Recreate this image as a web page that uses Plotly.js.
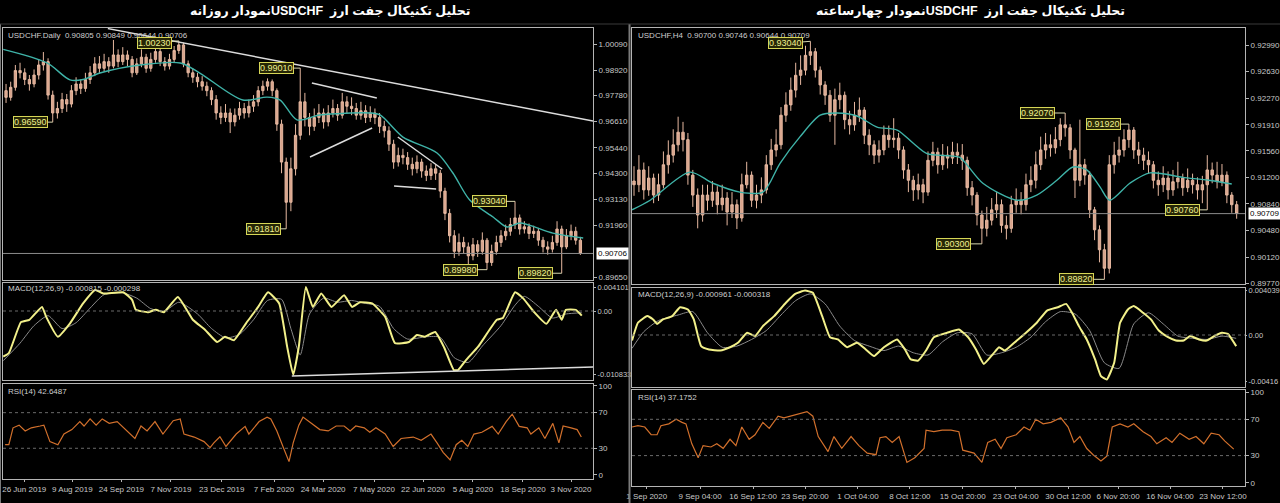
<!DOCTYPE html>
<html><head><meta charset="utf-8">
<script src="https://cdn.plot.ly/plotly-3.0.1.min.js"></script>
<style>html,body{margin:0;padding:0;background:#000;}#chart{width:1280px;height:503px;}</style>
</head><body><div id="chart"></div><script>
// ---------- DATA: left chart (USDCHF Daily, one candle per ~3 sessions) ----------
const dailyOpen = [0.9800,0.9770,0.9815,0.9890,0.9880,0.9850,0.9830,0.9870,0.9915,0.9930,
0.9780,0.9700,0.9720,0.9760,0.9740,0.9800,0.9830,0.9810,0.9850,0.9880,
0.9920,0.9900,0.9930,0.9910,0.9960,0.9930,0.9960,0.9940,0.9880,0.9920,
0.9950,0.9900,0.9940,0.9975,0.9930,0.9910,0.9940,0.9980,1.0005,0.9920,
0.9880,0.9860,0.9840,0.9820,0.9800,0.9760,0.9700,0.9680,0.9700,0.9660,
0.9690,0.9720,0.9700,0.9730,0.9750,0.9800,0.9820,0.9840,0.9800,0.9650,
0.9480,0.9300,0.9450,0.9600,0.9750,0.9680,0.9640,0.9680,0.9700,0.9660,
0.9700,0.9720,0.9690,0.9750,0.9730,0.9720,0.9690,0.9710,0.9680,0.9700,
0.9680,0.9640,0.9620,0.9560,0.9480,0.9510,0.9500,0.9470,0.9450,0.9480,
0.9440,0.9420,0.9450,0.9430,0.9350,0.9250,0.9150,0.9080,0.9120,0.9100,
0.9060,0.9110,0.9080,0.9130,0.9030,0.9080,0.9120,0.9150,0.9170,0.9200,
0.9230,0.9180,0.9190,0.9160,0.9170,0.9130,0.9100,0.9090,0.9120,0.9180,
0.9100,0.9150,0.9170,0.9130];
const dailyHigh = [0.9830,0.9840,0.9915,0.9925,0.9900,0.9870,0.9895,0.9940,0.9973,0.9945,
0.9800,0.9750,0.9790,0.9785,0.9825,0.9860,0.9850,0.9880,0.9910,0.9950,
0.9955,0.9965,0.9950,1.0027,0.9985,0.9995,0.9980,0.9955,0.9945,0.9985,
0.9965,0.9970,1.0000,0.9990,0.9950,0.9965,1.0000,1.0023,1.0015,0.9935,
0.9900,0.9880,0.9865,0.9840,0.9815,0.9780,0.9730,0.9740,0.9720,0.9720,
0.9750,0.9745,0.9760,0.9780,0.9820,0.9845,0.9855,0.9850,0.9810,0.9670,
0.9500,0.9500,0.9650,0.9901,0.9790,0.9700,0.9720,0.9740,0.9720,0.9735,
0.9760,0.9740,0.9790,0.9775,0.9770,0.9745,0.9750,0.9735,0.9730,0.9720,
0.9700,0.9665,0.9640,0.9580,0.9545,0.9540,0.9525,0.9500,0.9510,0.9495,
0.9465,0.9475,0.9470,0.9445,0.9365,0.9270,0.9175,0.9160,0.9145,0.9120,
0.9140,0.9130,0.9165,0.9140,0.9110,0.9150,0.9175,0.9200,0.9230,0.9304,
0.9245,0.9215,0.9205,0.9195,0.9185,0.9145,0.9125,0.9150,0.9215,0.9195,
0.9180,0.9200,0.9190,0.9145];
const dailyLow = [0.9745,0.9755,0.9800,0.9855,0.9825,0.9800,0.9815,0.9850,0.9890,0.9760,
0.9659,0.9675,0.9700,0.9705,0.9725,0.9780,0.9785,0.9795,0.9830,0.9865,
0.9875,0.9885,0.9880,0.9900,0.9905,0.9915,0.9910,0.9860,0.9870,0.9905,
0.9880,0.9885,0.9925,0.9910,0.9890,0.9895,0.9925,0.9965,0.9905,0.9860,
0.9835,0.9815,0.9800,0.9775,0.9735,0.9670,0.9650,0.9660,0.9610,0.9640,
0.9670,0.9675,0.9680,0.9705,0.9730,0.9780,0.9800,0.9775,0.9620,0.9430,
0.9181,0.9260,0.9420,0.9580,0.9640,0.9600,0.9620,0.9655,0.9630,0.9640,
0.9680,0.9665,0.9675,0.9700,0.9690,0.9670,0.9670,0.9655,0.9660,0.9650,
0.9610,0.9590,0.9530,0.9450,0.9460,0.9470,0.9445,0.9420,0.9430,0.9410,
0.9395,0.9400,0.9400,0.9320,0.9220,0.9120,0.9050,0.9060,0.9070,0.8995,
0.9040,0.9055,0.9065,0.8998,0.9015,0.9065,0.9100,0.9130,0.9150,0.9180,
0.9155,0.9160,0.9135,0.9140,0.9105,0.9075,0.9065,0.9075,0.9105,0.8982,
0.9090,0.9130,0.9110,0.9064];
const dailyClose = [0.9770,0.9815,0.9890,0.9880,0.9850,0.9830,0.9870,0.9915,0.9930,0.9780,
0.9700,0.9720,0.9760,0.9740,0.9800,0.9830,0.9810,0.9850,0.9880,0.9920,
0.9900,0.9930,0.9910,0.9960,0.9930,0.9960,0.9940,0.9880,0.9920,0.9950,
0.9900,0.9940,0.9975,0.9930,0.9910,0.9940,0.9980,1.0005,0.9920,0.9880,
0.9860,0.9840,0.9820,0.9800,0.9760,0.9700,0.9680,0.9700,0.9660,0.9690,
0.9720,0.9700,0.9730,0.9750,0.9800,0.9820,0.9840,0.9800,0.9650,0.9480,
0.9300,0.9450,0.9600,0.9750,0.9680,0.9640,0.9680,0.9700,0.9660,0.9700,
0.9720,0.9690,0.9750,0.9730,0.9720,0.9690,0.9710,0.9680,0.9700,0.9680,
0.9640,0.9620,0.9560,0.9480,0.9510,0.9500,0.9470,0.9450,0.9480,0.9440,
0.9420,0.9450,0.9430,0.9350,0.9250,0.9150,0.9080,0.9120,0.9100,0.9060,
0.9110,0.9080,0.9130,0.9030,0.9080,0.9120,0.9150,0.9170,0.9200,0.9230,
0.9180,0.9190,0.9160,0.9170,0.9130,0.9100,0.9090,0.9120,0.9180,0.9100,
0.9150,0.9170,0.9130,0.9071];
const dailyMaX = [-0.6,8.8,13.7,16.5,20.1,28.7,37.3,41.5,50.7,55.9,58.7,62.3,67.2,77.9,80.1,85.0,92.3,95.7,99.3,104.3,107.3,110.1,117.1,123.6];
const dailyMa  = [0.9985,0.9924,0.9848,0.9850,0.9879,0.9915,0.9924,0.9879,0.9758,0.9771,0.9758,0.9669,0.9691,0.9700,0.9691,0.9592,0.9521,0.9431,0.9310,0.9234,0.9189,0.9207,0.9162,0.9140];
const dailyMacdX = [-0.6,0.6,3.2,5.0,7.7,8.6,11.1,13.7,16.5,19.1,20.8,25.1,27.0,27.8,30.4,32.1,33.8,36.8,40.0,42.6,45.2,46.9,48.8,51.4,54.0,56.1,58.5,60.2,61.5,62.7,64.2,65.7,67.5,69.7,72.4,74.1,75.8,78.4,81.2,83.3,86.3,88.0,89.7,91.9,93.8,95.9,96.8,98.5,101.1,105.1,106.4,109.0,110.7,113.1,115.7,117.8,119.0,119.9,122.0,123.3];
const dailyMacd  = [-0.0078,-0.0072,-0.0019,-0.0015,0.0007,-0.0010,-0.0044,-0.0021,0.0013,0.0036,0.0030,0.0032,0.0019,0.0002,-0.0002,0.0002,-0.0002,0.0024,-0.0015,-0.0032,-0.0053,-0.0044,-0.0050,-0.0021,0.0007,0.0032,0.0013,-0.0061,-0.0109,-0.0061,0.0041,0.0007,0.0030,0.0007,0.0027,0.0007,0.0015,0.0013,-0.0010,-0.0055,-0.0053,-0.0041,-0.0044,-0.0036,-0.0062,-0.0101,-0.0101,-0.0084,-0.0061,-0.0015,-0.0012,0.0032,0.0022,-0.0002,-0.0022,0.0002,-0.0015,0.0002,0.0002,-0.0008];
const dailySignalX = [-0.6,3,6,9,12,15,18,21,25,28,31,34,37,41,44,47,50,53,56,59,61,63,65,68,71,74,77,80,83,86,90,93,96,99,102,106,109,111,114,117,120,123.3];
const dailySignal  = [-0.0085,-0.0055,-0.0025,-0.0008,-0.0030,-0.0020,0.0005,0.0028,0.0031,0.0022,0.0004,0.0000,0.0015,-0.0005,-0.0030,-0.0046,-0.0040,-0.0015,0.0018,0.0020,-0.0030,-0.0075,-0.0005,0.0022,0.0015,0.0018,0.0013,0.0008,-0.0030,-0.0048,-0.0044,-0.0045,-0.0080,-0.0088,-0.0060,-0.0025,0.0010,0.0025,0.0008,-0.0012,-0.0005,-0.0003];
const dailyRsiX = [-0.2,0.6,1.5,2.8,4.1,5.4,7.3,8.1,9.4,11.1,12.4,14.1,15.8,16.7,18.0,19.3,20.6,22.1,23.8,25.5,27.6,28.9,30.2,31.9,33.6,35.8,37.3,38.1,40.3,42.4,43.7,44.5,45.8,47.1,49.3,51.2,52.0,54.2,55.9,56.7,58.0,59.3,60.2,60.6,61.5,62.7,63.6,65.5,67.2,69.0,70.7,72.4,73.7,74.9,76.7,77.9,79.2,81.2,82.9,84.6,87.2,88.9,91.0,92.3,93.6,95.1,96.4,97.6,98.9,100.2,101.9,104.1,105.4,107.1,108.4,109.9,111.6,112.4,114.1,115.4,117.1,118.4,119.3,121.0,122.3,123.2];
const dailyRsi  = [34,34,53,56,49.5,53,55,56,37.5,34,46,51,60,55,63,56,63,58,60,51,41,55,49.5,60,46,61,63,46,42.6,37.5,30.7,36,43,32,46,54.6,46,60,65,63,49.5,32,20,15,36,56,65,58,51,49.5,55,55,49.5,55,53,48,53,46,32,41,42.6,39,46,36,25.5,17,34,39,32,46,48,54.6,46,60,68.3,54.6,53,46,53,41,58,36,55,53,51,42.6];
const dailyTicks = ["26 Jun 2019","9 Aug 2019","24 Sep 2019","7 Nov 2019","23 Dec 2019","7 Feb 2020","24 Mar 2020","7 May 2020","22 Jun 2020","5 Aug 2020","18 Sep 2020","3 Nov 2020"];
const dailyTickPos = [3.9,14.2,24.7,35.3,46.2,57.4,67.9,78.8,89.3,100,110.7,121];
const dailyPriceTicks = [1.0009,0.9892,0.9778,0.9661,0.9544,0.9430,0.9313,0.9196,0.8965];
const dailyPriceText = ["1.00090","0.98920","0.97780","0.96610","0.95440","0.94300","0.93130","0.91960","0.89650"];
const dailyMacdTicks = [0.004101,0,-0.010833];
const dailyMacdText = ["0.004101","0.00","-0.010833"];

// ---------- DATA: right chart (USDCHF H4, one candle per ~3 bars) ----------
const h4Open = [0.9115,0.9110,0.9130,0.9103,0.9119,0.9096,0.9110,0.9137,0.9150,0.9164,
0.9181,0.9171,0.9123,0.9096,0.9069,0.9096,0.9089,0.9100,0.9083,0.9092,
0.9073,0.9083,0.9065,0.9110,0.9123,0.9089,0.9096,0.9103,0.9137,0.9157,
0.9164,0.9204,0.9218,0.9238,0.9258,0.9265,0.9285,0.9290,0.9265,0.9245,
0.9231,0.9204,0.9225,0.9231,0.9198,0.9191,0.9204,0.9211,0.9177,0.9164,
0.9150,0.9157,0.9177,0.9171,0.9173,0.9157,0.9130,0.9116,0.9103,0.9110,
0.9100,0.9143,0.9154,0.9137,0.9150,0.9146,0.9154,0.9150,0.9143,0.9106,
0.9096,0.9069,0.9051,0.9062,0.9076,0.9083,0.9055,0.9051,0.9083,0.9089,
0.9083,0.9110,0.9116,0.9137,0.9157,0.9164,0.9160,0.9171,0.9191,0.9187,
0.9157,0.9116,0.9137,0.9123,0.9076,0.9049,0.9022,0.8997,0.9137,0.9150,
0.9157,0.9171,0.9184,0.9157,0.9150,0.9143,0.9137,0.9116,0.9110,0.9119,
0.9103,0.9114,0.9119,0.9106,0.9116,0.9110,0.9103,0.9110,0.9130,0.9123,
0.9114,0.9123,0.9096,0.9083];
const h4High = [0.9135,0.9150,0.9140,0.9135,0.9125,0.9125,0.9155,0.9170,0.9185,0.9202,
0.9195,0.9180,0.9130,0.9105,0.9110,0.9110,0.9115,0.9108,0.9110,0.9100,
0.9100,0.9090,0.9125,0.9141,0.9128,0.9110,0.9120,0.9150,0.9172,0.9185,
0.9215,0.9235,0.9255,0.9275,0.9285,0.9298,0.9304,0.9295,0.9270,0.9250,
0.9238,0.9240,0.9248,0.9236,0.9210,0.9222,0.9228,0.9215,0.9185,0.9170,
0.9170,0.9190,0.9190,0.9200,0.9180,0.9162,0.9138,0.9122,0.9125,0.9118,
0.9155,0.9168,0.9160,0.9165,0.9162,0.9168,0.9166,0.9165,0.9148,0.9115,
0.9100,0.9075,0.9080,0.9092,0.9100,0.9090,0.9068,0.9095,0.9105,0.9100,
0.9125,0.9135,0.9155,0.9175,0.9180,0.9178,0.9188,0.9200,0.9207,0.9192,
0.9160,0.9198,0.9145,0.9128,0.9080,0.9055,0.9030,0.9150,0.9168,0.9175,
0.9185,0.9192,0.9188,0.9168,0.9160,0.9155,0.9142,0.9128,0.9135,0.9128,
0.9130,0.9141,0.9125,0.9132,0.9125,0.9120,0.9122,0.9150,0.9140,0.9141,
0.9138,0.9128,0.9100,0.9088];
const h4Low = [0.9095,0.9100,0.9090,0.9095,0.9085,0.9088,0.9105,0.9125,0.9140,0.9155,
0.9155,0.9110,0.9080,0.9051,0.9060,0.9075,0.9080,0.9070,0.9075,0.9055,
0.9065,0.9050,0.9060,0.9105,0.9080,0.9078,0.9085,0.9098,0.9130,0.9148,
0.9158,0.9195,0.9210,0.9228,0.9245,0.9258,0.9272,0.9255,0.9232,0.9218,
0.9195,0.9164,0.9212,0.9185,0.9178,0.9183,0.9195,0.9165,0.9150,0.9138,
0.9140,0.9150,0.9160,0.9160,0.9145,0.9118,0.9100,0.9088,0.9090,0.9085,
0.9095,0.9135,0.9125,0.9130,0.9132,0.9138,0.9138,0.9130,0.9095,0.9082,
0.9055,0.9030,0.9040,0.9055,0.9065,0.9045,0.9036,0.9045,0.9072,0.9070,
0.9075,0.9100,0.9105,0.9130,0.9145,0.9148,0.9152,0.9162,0.9175,0.9145,
0.9092,0.9108,0.9110,0.9065,0.9035,0.9005,0.8982,0.8990,0.9125,0.9140,
0.9148,0.9160,0.9145,0.9138,0.9130,0.9125,0.9105,0.9095,0.9100,0.9090,
0.9095,0.9105,0.9095,0.9100,0.9098,0.9090,0.9085,0.9076,0.9112,0.9105,
0.9108,0.9085,0.9072,0.9064];
const h4Close = [0.9110,0.9130,0.9103,0.9119,0.9096,0.9110,0.9137,0.9150,0.9164,0.9181,
0.9171,0.9123,0.9096,0.9069,0.9096,0.9089,0.9100,0.9083,0.9092,0.9073,
0.9083,0.9065,0.9110,0.9123,0.9089,0.9096,0.9103,0.9137,0.9157,0.9164,
0.9204,0.9218,0.9238,0.9258,0.9265,0.9285,0.9290,0.9265,0.9245,0.9231,
0.9204,0.9225,0.9231,0.9198,0.9191,0.9204,0.9211,0.9177,0.9164,0.9150,
0.9157,0.9177,0.9171,0.9173,0.9157,0.9130,0.9116,0.9103,0.9110,0.9100,
0.9143,0.9154,0.9137,0.9150,0.9146,0.9154,0.9150,0.9143,0.9106,0.9096,
0.9069,0.9051,0.9062,0.9076,0.9083,0.9055,0.9051,0.9083,0.9089,0.9083,
0.9110,0.9116,0.9137,0.9157,0.9164,0.9160,0.9171,0.9191,0.9187,0.9157,
0.9116,0.9137,0.9123,0.9076,0.9049,0.9022,0.8997,0.9137,0.9150,0.9157,
0.9171,0.9184,0.9157,0.9150,0.9143,0.9137,0.9116,0.9110,0.9119,0.9103,
0.9114,0.9119,0.9106,0.9116,0.9110,0.9103,0.9110,0.9130,0.9123,0.9114,
0.9123,0.9096,0.9083,0.9071];
const h4MaX = [-0.4,3.3,11.4,16.1,21.6,26.3,29.8,33.9,38.0,41.4,45.5,49.6,53.7,57.0,59.8,64.5,66.5,71.2,78.2,82.2,86.3,89.6,92.4,95.1,97.1,101.2,105.3,112.0,117.3,122.0];
const h4Ma  = [0.9076,0.9089,0.9127,0.9112,0.9100,0.9100,0.9139,0.9175,0.9204,0.9207,0.9203,0.9188,0.9184,0.9166,0.9152,0.9149,0.9147,0.9112,0.9089,0.9096,0.9116,0.9134,0.9130,0.9107,0.9089,0.9112,0.9126,0.9120,0.9116,0.9111];
const h4MacdX = [-0.4,0.8,2.7,3.9,4.7,5.9,7.8,9.4,11.0,12.2,13.7,15.3,17.6,19.6,21.2,23.1,24.7,26.3,28.6,31.0,32.9,34.9,36.5,38.4,40.0,41.6,43.5,45.5,47.3,49.0,51.0,53.7,55.3,56.5,58.0,59.6,61.2,63.9,66.3,68.2,69.8,71.4,73.3,74.5,75.7,77.6,80.0,82.2,84.3,86.5,88.2,89.4,90.8,92.4,94.1,95.3,96.5,98.0,99.2,100.8,102.0,103.9,105.5,107.1,109.0,110.6,112.2,113.5,115.3,116.9,118.4,120.0,121.2,122.9];
const h4Macd  = [-0.0005,0.0011,0.0017,0.0014,0.0010,0.0014,0.0017,0.0025,0.0023,0.0014,-0.0010,-0.0013,-0.0014,-0.0011,-0.0007,0.0002,-0.0001,0.0008,0.0017,0.0029,0.0037,0.0040,0.0038,0.0017,-0.0002,-0.0004,-0.0011,-0.0007,-0.0013,-0.0019,-0.0011,-0.0004,-0.0013,-0.0022,-0.0023,-0.0014,-0.0002,0.0002,0.0005,-0.0002,-0.0013,-0.0026,-0.0017,-0.0011,-0.0014,-0.0007,0.0002,0.0011,0.0022,0.0025,0.0028,0.0020,0.0008,-0.0004,-0.0022,-0.0037,-0.0040,-0.0025,0.0011,0.0023,0.0026,0.0020,0.0014,0.0004,-0.0002,-0.0005,-0.0005,-0.0001,-0.0004,-0.0005,-0.0001,0.0002,0.0001,-0.0010];
const h4SignalX = [-0.4,2,5,9,12,15,18,21,24,27,30,33,36,39,42,45,48,51,54,57,60,63,66,69,72,75,78,81,84,87,90,93,96,99,102,105,108,111,114,117,120,122.9];
const h4Signal  = [-0.0012,0.0003,0.0013,0.0018,0.0021,0.0002,-0.0011,-0.0010,-0.0004,0.0004,0.0018,0.0031,0.0037,0.0028,0.0008,-0.0005,-0.0010,-0.0014,-0.0010,-0.0016,-0.0018,-0.0006,0.0002,0.0001,-0.0018,-0.0016,-0.0011,-0.0002,0.0012,0.0021,0.0019,0.0004,-0.0025,-0.0030,0.0010,0.0020,0.0010,-0.0001,-0.0003,-0.0004,-0.0001,-0.0003];
const h4RsiX = [-0.4,0.8,2.2,3.5,4.7,5.5,7.1,8.6,9.8,10.6,11.8,13.1,14.1,15.7,16.9,18.2,19.6,20.8,22.0,23.5,24.7,26.3,27.6,29.4,30.6,31.8,33.3,35.3,36.5,37.6,39.6,40.8,42.4,44.3,45.9,47.6,49.4,50.2,51.4,52.7,54.1,55.7,57.3,59.2,59.6,61.2,62.9,64.7,66.3,67.1,69.4,71.0,72.2,73.7,74.9,76.1,78.0,79.6,80.8,82.0,83.5,85.1,87.1,88.6,89.8,91.0,92.4,93.7,95.3,96.5,97.6,99.2,100.8,102.0,103.9,105.5,106.7,108.6,109.8,111.4,113.3,114.7,116.3,117.8,119.4,120.6,122.4];
const h4Rsi  = [61.5,63,61.5,53,53,63,65,70,66.6,65,43,27.6,41,39.5,43,38,48,41,61.5,48,53,66.6,60,73.4,71.7,73.4,75,78.5,73.4,51,34.4,51,38,51,41,32.7,31,49.7,51,44.6,51,22.5,27.6,37.8,58,56.4,58,58,56.4,36,32.7,22.5,44.6,48,37.8,49.7,53,61.5,58,70,65,66.6,71.7,61.5,44.6,51,37.8,31,24.2,29.4,61.5,65,61.5,65,56.4,51,43,49.7,44.6,54.7,48,51,43,54.7,53,46,37.2];
const h4Ticks = ["1 Sep 2020","9 Sep 04:00","16 Sep 12:00","23 Sep 20:00","1 Oct 04:00","8 Oct 12:00","15 Oct 20:00","23 Oct 04:00","30 Oct 12:00","6 Nov 20:00","16 Nov 04:00","23 Nov 12:00"];
const h4TickPos = [2.6,13.5,24.3,34.9,45.7,56.3,67.1,77.9,88.6,98.8,109.4,120.2];
const h4PriceTicks = [0.9299,0.9263,0.9227,0.9191,0.9156,0.9120,0.9084,0.9048,0.9012,0.8977];
const h4PriceText = ["0.92990","0.92630","0.92270","0.91910","0.91560","0.91200","0.90840","0.90480","0.90120","0.89770"];
const h4MacdTicks = [0.004039,0,-0.00416];
const h4MacdText = ["0.004039","0.00","-0.00416"];
const rsiTicks = [100,70,30,0];
const rsiText = ["100","70","30","0"];
// Persian titles: the three parts, in left-to-right display order on screen
const leftTitle  = "نمودار روزانهUSDCHF  تحلیل تکنیکال جفت ارز";
const rightTitle = "نمودار چهارساعتهUSDCHF  تحلیل تکنیکال جفت ارز";

// ---------- LAYOUT helpers (pixel -> paper) ----------
const W = 1280, H = 503;
const px = v => v / W;
const py = v => 1 - v / H;

const FONT = "Liberation Sans, Arial, sans-serif";
const TICKC = "#c8c8c8";
const FRAME = "#b4b4b4";
const CANDLE_FILL = "#d9a48c";
const CANDLE_LINE = "#e6b8a0";

function candle(o,h,l,c,xa,ya){
  const xs = o.map((_,i)=>i);
  return {type:"candlestick", x:xs, open:o, high:h, low:l, close:c, xaxis:xa, yaxis:ya,
    increasing:{line:{color:CANDLE_LINE,width:1},fillcolor:CANDLE_FILL},
    decreasing:{line:{color:CANDLE_LINE,width:1},fillcolor:CANDLE_FILL},
    whiskerwidth:0, hoverinfo:"skip", showlegend:false};
}
function line(x,y,xa,ya,color,width,smooth){
  return {type:"scatter",mode:"lines",x:x,y:y,xaxis:xa,yaxis:ya,
    line:{color:color,width:width,shape:smooth?"spline":"linear",smoothing:smooth||0},hoverinfo:"skip",showlegend:false};
}

const traces = [
  candle(dailyOpen,dailyHigh,dailyLow,dailyClose,"x","y"),
  line(dailyMaX,dailyMa,"x","y","#3fb3a8",1.4,0.8),
  line(dailySignalX,dailySignal,"x2","y2","#8a8a8a",1,0.6),
  line(dailyMacdX,dailyMacd,"x2","y2","#f2f08a",2,0.4),
  line(dailyRsiX,dailyRsi,"x3","y3","#d2702c",1.2),
  candle(h4Open,h4High,h4Low,h4Close,"x4","y4"),
  line(h4MaX,h4Ma,"x4","y4","#3fb3a8",1.4,0.8),
  line(h4SignalX,h4Signal,"x5","y5","#8a8a8a",1,0.6),
  line(h4MacdX,h4Macd,"x5","y5","#f2f08a",2,0.4),
  line(h4RsiX,h4Rsi,"x6","y6","#d2702c",1.2)
];

function xax(dom, range, anchor, labels){
  const a = {domain:dom, range:range, anchor:anchor, showgrid:false, zeroline:false,
    showline:true, mirror:true, linecolor:FRAME, linewidth:1, fixedrange:true,
    rangeslider:{visible:false}, showticklabels:false, ticks:""};
  if(labels){
    a.showticklabels = true; a.tickmode="array"; a.tickvals=labels[0]; a.ticktext=labels[1];
    a.tickangle=0; a.automargin=false;
    a.tickfont={family:FONT,size:8,color:TICKC}; a.ticks="outside"; a.ticklen=2; a.tickcolor=FRAME;
  }
  return a;
}
function yax(dom, range, anchor, vals, text, fs, tl){
  return {domain:dom, range:range, anchor:anchor, side:"right", showgrid:false, zeroline:false,
    showline:true, mirror:true, linecolor:FRAME, linewidth:1, fixedrange:true, automargin:false,
    tickmode:"array", tickvals:vals, ticktext:text, ticks:"outside", ticklen:tl||3, tickcolor:FRAME,
    tickfont:{family:FONT,size:fs||8,color:TICKC}};
}

const LX = [px(3), px(593)], RX = [px(632), px(1245)];
const LXR = [-0.65, 125.7], RXR = [-0.41, 124.7];

const layout = {
  width:W, height:H, margin:{l:0,r:0,t:0,b:0,pad:0},
  paper_bgcolor:"#000000", plot_bgcolor:"#000000", hovermode:false, showlegend:false,
  xaxis: xax(LX, LXR, "y"),
  yaxis: yax([py(280), py(28)], [0.89517, 1.00807], "x", dailyPriceTicks, dailyPriceText),
  xaxis2: xax(LX, LXR, "y2"),
  yaxis2: yax([py(380), py(283)], [-0.0118, 0.00479], "x2", dailyMacdTicks, dailyMacdText, 7.5, 2),
  xaxis3: xax(LX, LXR, "y3", [dailyTickPos, dailyTicks]),
  yaxis3: yax([py(479), py(384)], [-4.5, 102.2], "x3", rsiTicks, rsiText),
  xaxis4: xax(RX, RXR, "y4"),
  yaxis4: yax([py(284), py(28)], [0.89757, 0.9322], "x4", h4PriceTicks, h4PriceText),
  xaxis5: xax(RX, RXR, "y5"),
  yaxis5: yax([py(387), py(288)], [-0.00468, 0.00423], "x5", h4MacdTicks, h4MacdText, 7.5, 1),
  xaxis6: xax(RX, RXR, "y6", [h4TickPos, h4Ticks]),
  yaxis6: yax([py(486), py(390)], [-3.5, 102.3], "x6", rsiTicks, rsiText),
  shapes: [],
  annotations: []
};

const S = layout.shapes, A = layout.annotations;
// window separators
S.push({type:"line",xref:"paper",yref:"paper",x0:px(629.5),x1:px(629.5),y0:0,y1:py(24),line:{color:"#7a7a7a",width:2}});
S.push({type:"line",xref:"paper",yref:"paper",x0:px(0.5),x1:px(0.5),y0:0,y1:py(24),line:{color:"#7a7a7a",width:1}});
S.push({type:"line",xref:"paper",yref:"paper",x0:0,x1:1,y0:py(24),y1:py(24),line:{color:"#3a3a3a",width:1}});
// current price lines
S.push({type:"line",xref:"paper",yref:"y",x0:LX[0],x1:LX[1],y0:0.90706,y1:0.90706,line:{color:"#8c8c8c",width:1}});
S.push({type:"line",xref:"paper",yref:"y4",x0:RX[0],x1:RX[1],y0:0.90709,y1:0.90709,line:{color:"#8c8c8c",width:1}});
// indicator levels (dotted)
S.push({type:"line",xref:"paper",yref:"y2",x0:LX[0],x1:LX[1],y0:0,y1:0,line:{color:"#6a6a6a",width:1,dash:"dot"}});
S.push({type:"line",xref:"paper",yref:"y5",x0:RX[0],x1:RX[1],y0:0,y1:0,line:{color:"#6a6a6a",width:1,dash:"dot"}});
[70,30].forEach(v=>{
  S.push({type:"line",xref:"paper",yref:"y3",x0:LX[0],x1:LX[1],y0:v,y1:v,line:{color:"#6a6a6a",width:1,dash:"dot"}});
  S.push({type:"line",xref:"paper",yref:"y6",x0:RX[0],x1:RX[1],y0:v,y1:v,line:{color:"#6a6a6a",width:1,dash:"dot"}});
});
// trend lines drawn on the daily chart
const TL = "#dcdcdc";
S.push({type:"line",xref:"x",yref:"y",x0:21.8,y0:1.0078,x1:125.7,y1:0.9664,line:{color:TL,width:1.5}});
S.push({type:"line",xref:"x",yref:"y",x0:65.5,y0:0.98343,x1:79.4,y1:0.97671,line:{color:TL,width:1.5}});
S.push({type:"line",xref:"x",yref:"y",x0:65.1,y0:0.95028,x1:78.4,y1:0.96327,line:{color:TL,width:1.5}});
S.push({type:"line",xref:"x",yref:"y",x0:83.9,y0:0.95924,x1:93.4,y1:0.94490,line:{color:TL,width:1.5}});
S.push({type:"line",xref:"x",yref:"y",x0:83.1,y0:0.93728,x1:92.1,y1:0.93594,line:{color:TL,width:1.5}});
S.push({type:"line",xref:"x2",yref:"y2",x0:61.2,y0:-0.01112,x1:125.7,y1:-0.00958,line:{color:TL,width:1.5}});

// titles
const TITLE_FONT = {family:"Liberation Sans, DejaVu Sans, sans-serif", size:12.5, color:"#ffffff", weight:700};
A.push({xref:"paper",yref:"paper",x:px(330),y:py(11),xanchor:"center",yanchor:"middle",showarrow:false,
  text:leftTitle,font:TITLE_FONT});
A.push({xref:"paper",yref:"paper",x:px(970),y:py(11),xanchor:"center",yanchor:"middle",showarrow:false,
  text:rightTitle,font:TITLE_FONT});
// panel headers
const HF = {family:FONT,size:8,color:"#cfcfcf"};
function hdr(x,y,t){A.push({xref:"paper",yref:"paper",x:px(x),y:py(y),xanchor:"left",yanchor:"middle",showarrow:false,text:t,font:HF});}
hdr(6,35,"USDCHF.Daily  0.90805 0.90849 0.90644 0.90706");
hdr(6,288,"MACD(12,26,9) -0.000815 -0.000298");
hdr(6,391,"RSI(14) 42.6487");
hdr(636,35,"USDCHF,H4  0.90700 0.90746 0.90644 0.90709");
hdr(636,294,"MACD(12,26,9) -0.000961 -0.000318");
hdr(636,397,"RSI(14) 37.1752");
// current price boxes
A.push({xref:"paper",yref:"y",x:px(596),y:0.90706,xanchor:"left",yanchor:"middle",showarrow:false,text:"0.90706",
  font:{family:FONT,size:8,color:"#000"},bgcolor:"#ffffff",borderpad:1});
A.push({xref:"paper",yref:"y4",x:px(1248),y:0.90709,xanchor:"left",yanchor:"middle",showarrow:false,text:"0.90709",
  font:{family:FONT,size:8,color:"#000"},bgcolor:"#ffffff",borderpad:1});
// high / low price tags
function tag(xa,ya,x,y,t,ax,ay){
  A.push({xref:xa,yref:ya,x:x,y:y,text:t,showarrow:true,arrowhead:0,arrowwidth:1,arrowcolor:"#d8d8b0",
    ax:ax,ay:ay||0,font:{family:FONT,size:9,color:"#f0f090"},bgcolor:"#262606",bordercolor:"#d6d656",borderwidth:1,borderpad:0});
}
tag("x","y",37,1.0023,"1.00230",-24,2);
tag("x","y",63,0.9901,"0.99010",-24);
tag("x","y",10,0.9659,"0.96590",-22);
tag("x","y",60,0.9181,"0.91810",-23);
tag("x","y",109,0.9304,"0.93040",-26);
tag("x","y",103,0.8998,"0.89980",-27);
tag("x","y",119,0.8982,"0.89820",-26);
tag("x4","y4",36,0.9304,"0.93040",-25,2);
tag("x4","y4",88,0.9207,"0.92070",-28);
tag("x4","y4",101,0.9192,"0.91920",-25);
tag("x4","y4",71,0.9030,"0.90300",-28);
tag("x4","y4",96,0.8982,"0.89820",-28);
tag("x4","y4",117,0.9076,"0.90760",-25);

Plotly.newPlot("chart", traces, layout, {displayModeBar:false, staticPlot:true});
</script></body></html>
